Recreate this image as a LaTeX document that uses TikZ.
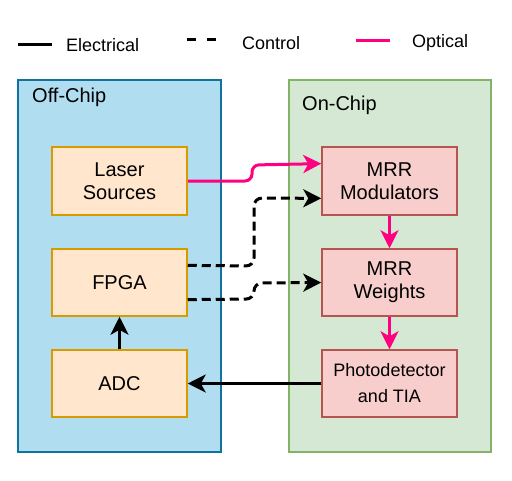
\documentclass[tikz,border=0pt]{standalone}
\usepackage{fontspec}
\setmainfont{Liberation Sans}
\usetikzlibrary{arrows.meta,calc}
\definecolor{offfill}{HTML}{B1DDF0}
\definecolor{offdraw}{HTML}{10739E}
\definecolor{onfill}{HTML}{D5E8D4}
\definecolor{ondraw}{HTML}{82B366}
\definecolor{orfill}{HTML}{FFE6CC}
\definecolor{ordraw}{HTML}{D79B00}
\definecolor{rdfill}{HTML}{F8CECC}
\definecolor{rddraw}{HTML}{B85450}
\definecolor{optic}{HTML}{FF0080}
\tikzset{
  chip/.style={draw, line width=1.5pt, minimum width=#1, minimum height=372pt, inner sep=0pt},
  offbox/.style={draw=ordraw, fill=orfill, line width=1.5pt, minimum width=135pt, minimum height=67pt, inner sep=0pt, align=center, font=\fontsize{20}{23}\selectfont},
  onbox/.style={draw=rddraw, fill=rdfill, line width=1.5pt, minimum width=135pt, minimum height=67pt, inner sep=0pt, align=center, font=\fontsize{20}{23}\selectfont},
  tip/.style={-{Stealth[length=18pt,width=18pt,inset=5pt]}},
  elec/.style={line width=3pt, black, tip},
  ctrl/.style={line width=3pt, black, dash pattern=on 9pt off 5pt, rounded corners=8pt, tip},
  opt/.style={line width=3pt, optic, rounded corners=7pt, tip},
  legtext/.style={anchor=west, inner sep=0pt, font=\fontsize{18}{21}\selectfont},
  chiplabel/.style={anchor=west, inner sep=0pt, font=\fontsize{20}{23}\selectfont}
}
\begin{document}
\begin{tikzpicture}[x=1pt,y=-1pt]
\useasboundingbox (0,0) rectangle (512,480);
% legend
\coordinate (e1) at (18,44); \coordinate (e2) at (52,44);
\draw[line width=3pt] (e1) -- (e2);
\node[legtext] (le) at (66,45) {Electrical};
\coordinate (c1) at (187,39); \coordinate (c2) at (220,39);
\draw[line width=3pt, dash pattern=on 9pt off 11pt] (c1) -- (c2);
\node[legtext] (lc) at (242,43) {Control};
\coordinate (o1) at (356,40); \coordinate (o2) at (390,40);
\draw[line width=3pt, optic] (o1) -- (o2);
\node[legtext] (lo) at (412,43) {Optical};
% containers
\node[chip=203pt, draw=offdraw, fill=offfill] (off) at (119.5,266) {};
\node[chip=202pt, draw=ondraw, fill=onfill] (on) at (390,266) {};
\node[chiplabel] (offl) at (32,97) {Off-Chip};
\node[chiplabel] (onl) at (302,105) {On-Chip};
% boxes
\node[offbox, minimum height=68pt] (las) at (119.5,181) {Laser\\Sources};
\node[offbox] (fpga) at (119.5,282.5) {FPGA};
\node[offbox] (adc) at (119.5,383.5) {ADC};
\node[onbox, minimum height=68pt] (mod) at (389.5,181) {MRR\\Modulators};
\node[onbox] (wts) at (389.5,282.5) {MRR\\Weights};
\node[onbox, font=\fontsize{18}{26}\selectfont] (pd) at (389.5,383.5) {Photodetector\\and TIA};
% connectors
\coordinate (modA) at ($(mod.north west)!0.25!(mod.south west)$);
\coordinate (modB) at ($(mod.north west)!0.75!(mod.south west)$);
\coordinate (fpA) at ($(fpga.north east)!0.25!(fpga.south east)$);
\coordinate (fpB) at ($(fpga.north east)!0.75!(fpga.south east)$);
\draw[opt] (las.east) -- (252,181) -- (252,165) -- (modA);
\draw[ctrl] (fpA) -- (254,266) -- (254,198) -- (modB);
\draw[ctrl] (fpB) -- (254,299) -- (254,283) -- (wts.west);
\draw[opt, rounded corners=0pt] (mod.south) -- (wts.north);
\draw[opt, rounded corners=0pt] (wts.south) -- (pd.north);
\draw[elec] (pd.west) -- (adc.east);
\draw[elec] (adc.north) -- (fpga.south);
\end{tikzpicture}
\end{document}
